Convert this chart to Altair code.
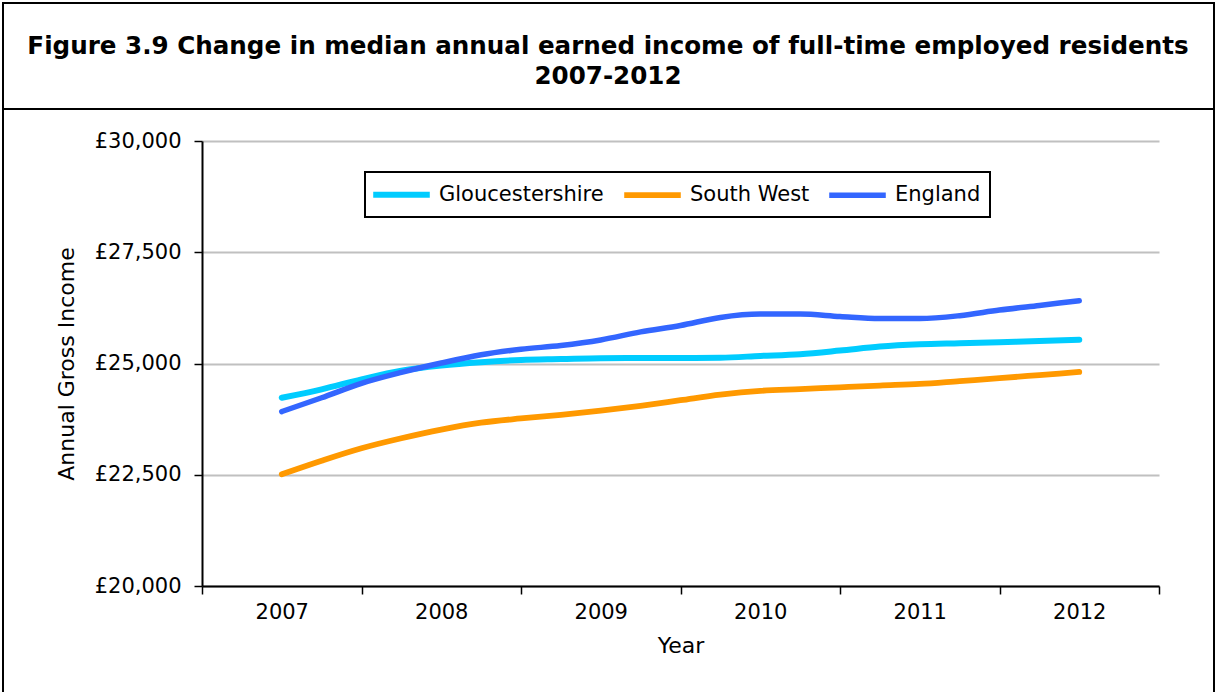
import altair as alt
import pandas as pd

# Quarterly positions (category centre of each year = whole year)
periods = [2007.0, 2007.25, 2007.5, 2007.75, 2008.0, 2008.25, 2008.5, 2008.75,
           2009.0, 2009.25, 2009.5, 2009.75, 2010.0, 2010.25, 2010.5, 2010.75,
           2011.0, 2011.25, 2011.5, 2011.75, 2012.0]

gloucestershire = [24230, 24420, 24645, 24840, 24955, 25030, 25080, 25100,
                   25120, 25125, 25125, 25130, 25170, 25210, 25290, 25380,
                   25430, 25455, 25480, 25505, 25535]
south_west = [22510, 22815, 23095, 23320, 23515, 23670, 23765, 23845,
              23940, 24050, 24175, 24300, 24385, 24425, 24465, 24505,
              24540, 24605, 24670, 24740, 24810]
england = [23920, 24230, 24555, 24800, 25010, 25195, 25320, 25405,
           25530, 25710, 25855, 26035, 26110, 26110, 26055, 26010,
           26010, 26075, 26200, 26305, 26410]

series_names = ["Gloucestershire", "South West", "England"]
series_colors = ["#00CCFF", "#FF9900", "#3366FF"]
series_widths = [6, 5.5, 3.5]

title_line1 = "Figure 3.9 Change in median annual earned income of full-time employed residents"
title_line2 = "2007-2012"

x_tick_values = [2006.5, 2007, 2007.5, 2008, 2008.5, 2009, 2009.5, 2010,
                 2010.5, 2011, 2011.5, 2012, 2012.5]
y_tick_values = [20000, 22500, 25000, 27500, 30000]

rows = []
for name, vals in zip(series_names, [gloucestershire, south_west, england]):
    for p, v in zip(periods, vals):
        rows.append({"Period": p, "Income": v, "Series": name})
df = pd.DataFrame(rows)

FONT = "DejaVu Sans"

legend_kw = dict(title=None, orient="none", legendX=168, legendY=22,
                 direction="horizontal", symbolType="stroke",
                 symbolSize=3200, labelFont=FONT, labelFontSize=21,
                 labelColor="black", labelOffset=6, labelLimit=400,
                 columnPadding=8, padding=0)

lines = alt.Chart(df).mark_line(interpolate="monotone", strokeCap="round", strokeJoin="round").encode(
    x=alt.X("Period:Q",
            scale=alt.Scale(domain=[2006.5, 2012.5], nice=False, zero=False),
            axis=alt.Axis(values=x_tick_values, title="Year", grid=False,
                          labelExpr="datum.value % 1 == 0 ? format(datum.value, 'd') : ''",
                          tickOpacity={"condition": {"test": "datum.value % 1 != 0", "value": 1}, "value": 0},
                          labelOverlap=False, labelFlush=False,
                          labelFont=FONT, labelFontSize=21, labelColor="black",
                          labelPadding=7,
                          titleFont=FONT, titleFontSize=22, titleFontWeight="normal",
                          titleColor="black", titlePadding=13,
                          tickColor="black", tickSize=8, tickWidth=1.5,
                          domainColor="black", domainWidth=2)),
    y=alt.Y("Income:Q",
            scale=alt.Scale(domain=[20000, 30000], nice=False, zero=False),
            axis=alt.Axis(values=y_tick_values, title="Annual Gross Income",
                          labelExpr="'£' + format(datum.value, ',')",
                          grid=True, gridColor="#c0c0c0", gridWidth=2,
                          labelFont=FONT, labelFontSize=21, labelColor="black",
                          labelPadding=13,
                          titleFont=FONT, titleFontSize=22, titleFontWeight="normal",
                          titleColor="black", titlePadding=16,
                          tickColor="black", tickSize=8, tickWidth=1.5,
                          domainColor="black", domainWidth=2)),
    color=alt.Color("Series:N",
                    scale=alt.Scale(domain=series_names, range=series_colors),
                    legend=alt.Legend(**legend_kw)),
    strokeWidth=alt.StrokeWidth("Series:N",
                                scale=alt.Scale(domain=series_names, range=series_widths),
                                legend=alt.Legend(**legend_kw)),
    detail="Series:N",
)

one = pd.DataFrame({"a": [0]})
frame = alt.Chart(one).mark_rect(filled=False, stroke="black", strokeWidth=2).encode(
    x=alt.value(-199), x2=alt.value(1012), y=alt.value(-138), y2=alt.value(560)
)
divider = alt.Chart(one).mark_rule(stroke="black", strokeWidth=2).encode(
    x=alt.value(-199), x2=alt.value(1012), y=alt.value(-32)
)
legend_box = alt.Chart(one).mark_rect(filled=False, stroke="black", strokeWidth=2).encode(
    x=alt.value(163), x2=alt.value(788), y=alt.value(31), y2=alt.value(76)
)

title_style = dict(font=FONT, fontSize=24.6, fontWeight="bold", color="black",
                   align="center", baseline="middle")
title1 = alt.Chart(pd.DataFrame({"line": [title_line1]})).mark_text(**title_style).encode(
    text="line:N", x=alt.value(406), y=alt.value(-94)
)
title2 = alt.Chart(pd.DataFrame({"line": [title_line2]})).mark_text(**title_style).encode(
    text="line:N", x=alt.value(406), y=alt.value(-64)
)

chart = alt.layer(frame, divider, legend_box, title1, title2, lines).properties(
    width=957, height=445,
    autosize=alt.AutoSizeParams(type="none"),
    padding={"left": 202, "top": 141, "right": 57, "bottom": 106},
    background="white",
).configure_view(stroke="transparent")

chart.save("out.html", embed_options={"renderer": "svg", "actions": False})
